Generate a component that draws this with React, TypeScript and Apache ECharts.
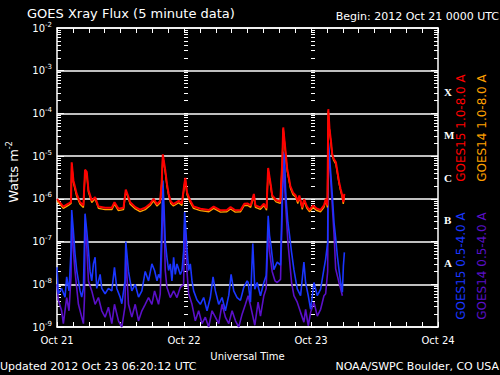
import React, { useEffect, useRef } from 'react';
import * as echarts from 'echarts';

// ---- data (hours since 2012 Oct 21 00:00 UTC, flux in W m^-2) ----
const DAY_LABELS = ['Oct 21', 'Oct 22', 'Oct 23', 'Oct 24'];
const CLASS_LETTERS = ['A', 'B', 'C', 'M', 'X']; // mid-decade 10^-7.5 ... 10^-3.5
const SERIES_NAMES = ['GOES15 1.0-8.0 A', 'GOES14 1.0-8.0 A', 'GOES15 0.5-4.0 A', 'GOES14 0.5-4.0 A'];
const TITLE = 'GOES Xray Flux (5 minute data)';
const BEGIN = 'Begin: 2012 Oct 21 0000 UTC';
const UPDATED = 'Updated 2012 Oct 23 06:20:12 UTC';
const CREDIT = 'NOAA/SWPC Boulder, CO USA';
const DECADE_EXPONENTS = [-9, -8, -7, -6, -5, -4, -3, -2];
const MINOR_MULTIPLIERS = [2, 3, 4, 5, 6, 7, 8, 9];

const goes15Long: [number, number][] = [
  [0, 1.0e-6], [1.2, 6.6e-7], [2.15, 7.7e-7], [2.65, 8.5e-7], [2.78, 7.2e-6], [3.1, 2.7e-6],
  [3.72, 1.3e-6], [4.36, 8.3e-7], [4.99, 7.0e-7], [5.3, 4.8e-6], [5.62, 4.3e-6], [5.94, 1.6e-6],
  [6.57, 9.1e-7], [7.2, 1.1e-6], [7.83, 6.6e-7], [9.1, 6.2e-7], [10.36, 6.2e-7], [10.86, 8.3e-7],
  [11.6, 5.9e-7], [12.57, 6.2e-7], [13.0, 1.65e-6], [13.4, 1.2e-6], [13.83, 8.3e-7], [14.8, 6.4e-7],
  [15.7, 5.6e-7], [16.67, 6.2e-7], [17.6, 7.7e-7], [18.25, 1.0e-6], [18.9, 7.5e-7], [19.5, 9.0e-7],
  [19.8, 2.7e-6], [20.0, 1.1e-5], [20.46, 4.7e-6], [20.78, 2.2e-6], [21.1, 1.3e-6], [21.5, 8.7e-7],
  [22.0, 7.5e-7], [23.0, 9.0e-7], [23.6, 7.8e-7], [24.06, 2.2e-6], [24.25, 3.1e-6], [24.57, 1.4e-6],
  [25.2, 9.0e-7], [25.8, 6.6e-7], [27.1, 5.9e-7], [28.7, 5.5e-7], [29.6, 6.6e-7], [30.9, 5.4e-7],
  [32.1, 5.5e-7], [32.8, 6.4e-7], [33.7, 5.4e-7], [34.7, 5.5e-7], [35.4, 7.7e-7], [36.05, 7.8e-7],
  [36.6, 7.0e-7], [37.2, 1.3e-6], [37.5, 7.0e-7], [38.45, 6.3e-7], [39.1, 7.7e-7], [39.6, 6.0e-7],
  [39.9, 5.3e-6], [40.35, 2.3e-6], [40.67, 1.2e-6], [41.4, 9.4e-7], [42.2, 8.7e-7], [42.56, 7.2e-6],
  [42.75, 4.7e-5], [43.2, 1.26e-5], [43.5, 5.1e-6], [43.8, 3.2e-6], [44.1, 2.0e-6], [44.6, 1.4e-6],
  [45.1, 1.2e-6], [45.5, 8.7e-7], [45.8, 1.2e-6], [46.35, 6.3e-7], [46.7, 9.8e-7], [47.2, 6.8e-7],
  [47.7, 5.5e-7], [48.4, 7.0e-7], [49.0, 6.0e-7], [49.8, 5.5e-7], [50.45, 7.0e-7], [50.8, 1.0e-6],
  [51.1, 7.0e-7], [51.27, 1.26e-4], [51.5, 4.4e-5], [51.8, 2.1e-5], [52.0, 1.14e-5], [52.3, 8.7e-6],
  [52.7, 7.2e-6], [53.0, 4.3e-6], [53.3, 2.5e-6], [53.6, 1.7e-6], [53.9, 1.2e-6], [54.1, 8.4e-7],
  [54.3, 1.3e-6],
];

const goes14Long: [number, number][] = [
  [0, 9.0e-7], [1.2, 6.0e-7], [2.15, 7.0e-7], [2.65, 7.8e-7], [2.78, 6.5e-6], [3.1, 2.4e-6],
  [3.72, 1.15e-6], [4.36, 7.5e-7], [4.99, 6.3e-7], [5.3, 4.3e-6], [5.62, 3.9e-6], [5.94, 1.45e-6],
  [6.57, 8.2e-7], [7.2, 1.0e-6], [7.83, 6.0e-7], [9.1, 5.6e-7], [10.36, 5.6e-7], [10.86, 7.5e-7],
  [11.6, 5.3e-7], [12.57, 5.6e-7], [13.0, 1.5e-6], [13.4, 1.1e-6], [13.83, 7.5e-7], [14.8, 5.8e-7],
  [15.7, 5.0e-7], [16.67, 5.6e-7], [17.6, 7.0e-7], [18.25, 9.0e-7], [18.9, 6.8e-7], [19.5, 8.1e-7],
  [19.8, 2.4e-6], [20.0, 1.0e-5], [20.46, 4.2e-6], [20.78, 2.0e-6], [21.1, 1.2e-6], [21.5, 7.8e-7],
  [22.0, 6.8e-7], [23.0, 8.1e-7], [23.6, 7.0e-7], [24.06, 2.0e-6], [24.25, 2.8e-6], [24.57, 1.25e-6],
  [25.2, 8.1e-7], [25.8, 6.0e-7], [27.1, 5.3e-7], [28.7, 5.0e-7], [29.6, 6.0e-7], [30.9, 4.9e-7],
  [32.1, 5.0e-7], [32.8, 5.8e-7], [33.7, 4.9e-7], [34.7, 5.0e-7], [35.4, 7.0e-7], [36.05, 7.0e-7],
  [36.6, 6.3e-7], [37.2, 1.15e-6], [37.5, 6.3e-7], [38.45, 5.7e-7], [39.1, 7.0e-7], [39.6, 5.4e-7],
  [39.9, 4.8e-6], [40.35, 2.1e-6], [40.67, 1.1e-6], [41.4, 8.5e-7], [42.2, 7.8e-7], [42.56, 6.5e-6],
  [42.75, 4.3e-5], [43.2, 1.15e-5], [43.5, 4.6e-6], [43.8, 2.9e-6], [44.1, 1.8e-6], [44.6, 1.25e-6],
  [45.1, 1.1e-6], [45.5, 7.8e-7], [45.8, 1.1e-6], [46.35, 5.7e-7], [46.7, 8.8e-7], [47.2, 6.1e-7],
  [47.7, 5.0e-7], [48.4, 6.3e-7], [49.0, 5.4e-7], [49.8, 5.0e-7], [50.45, 6.3e-7], [50.8, 9.0e-7],
  [51.1, 6.3e-7], [51.27, 1.15e-4], [51.5, 4.0e-5], [51.8, 1.9e-5], [52.0, 1.05e-5], [52.3, 7.9e-6],
  [52.7, 6.5e-6], [53.0, 3.9e-6], [53.3, 2.3e-6], [53.6, 1.55e-6], [53.9, 1.1e-6], [54.1, 7.6e-7],
  [54.3, 1.2e-6],
];

const goes15Short: [number, number][] = [
  [0, 2.5e-8], [0.25, 6e-9], [0.88, 8e-9], [1.52, 5e-9], [1.83, 1.5e-8], [2.27, 7e-9], [2.65, 6e-8],
  [2.78, 5.5e-7], [3.09, 1.8e-7], [3.41, 5e-8], [3.73, 2.1e-8], [4.36, 7e-9], [4.67, 5e-9], [4.99, 8e-9],
  [5.3, 4.5e-7], [5.62, 1.8e-7], [5.94, 6.3e-8], [6.25, 2e-8], [6.57, 1.2e-8], [6.88, 3e-8], [7.2, 4.3e-8],
  [7.51, 8e-9], [8.15, 1.7e-8], [8.46, 8e-9], [9.09, 6e-9], [9.72, 8e-9], [10.36, 7e-9], [10.86, 2.5e-8],
  [11.3, 8e-9], [11.93, 5e-9], [12.25, 3.5e-9], [12.85, 1.2e-8], [13.0, 1e-7], [13.51, 2e-8], [14.14, 7e-9],
  [14.78, 1e-8], [15.41, 5e-9], [16.04, 7e-9], [16.67, 2e-8], [17.3, 1.2e-8], [17.93, 3e-8], [18.44, 2.1e-8],
  [18.9, 1.2e-8], [19.19, 1.7e-8], [19.51, 1.4e-8], [19.83, 3e-7], [20.02, 2.7e-6], [20.27, 4.5e-7],
  [20.46, 1e-7], [20.77, 4.3e-8], [21.09, 2.1e-8], [21.41, 3e-8], [21.72, 1.2e-8], [22.04, 4.3e-8],
  [22.35, 1.7e-8], [22.67, 3e-8], [23.3, 1.7e-8], [23.62, 2.1e-8], [23.93, 6e-8], [24.12, 4.9e-7],
  [24.25, 3e-7], [24.56, 7e-8], [24.88, 2.1e-8], [25.19, 3e-8], [25.51, 1.2e-8], [25.82, 7e-9],
  [26.46, 4.3e-9], [27.09, 3.4e-9], [27.72, 4.9e-9], [28.35, 2.4e-9], [28.98, 4.9e-9], [29.49, 1.5e-8],
  [29.93, 7e-9], [30.56, 3.4e-9], [31.19, 4.9e-9], [31.82, 2.4e-9], [32.46, 5.5e-9], [32.9, 1.7e-8],
  [33.4, 7e-9], [34.03, 4.9e-9], [34.67, 4.2e-9], [35.3, 8.5e-9], [35.93, 1.2e-8], [36.12, 1.1e-8],
  [36.56, 3.8e-9], [37.0, 9e-8], [37.38, 7.7e-9], [37.82, 1.1e-8], [38.45, 5.4e-9], [39.09, 1.1e-8],
  [39.53, 1.6e-8], [39.91, 4e-7], [40.16, 1.4e-7], [40.41, 8.6e-8], [40.66, 4.6e-8], [40.98, 2.2e-8],
  [41.61, 3.3e-8], [42.24, 2.8e-8], [42.56, 1e-6], [42.75, 1.26e-5], [43.0, 1e-5], [43.19, 1.7e-6],
  [43.38, 7e-7], [43.63, 2.8e-7], [43.95, 1.4e-7], [44.33, 5.6e-8], [44.77, 2.2e-8], [45.4, 7.8e-9],
  [46.03, 5.4e-9], [46.66, 3.3e-8], [46.98, 1.1e-8], [47.48, 5.4e-9], [47.93, 2.6e-9], [48.56, 1.1e-8],
  [49.19, 5.4e-9], [49.82, 7.7e-9], [50.45, 2.3e-8], [50.77, 3.9e-8], [51.15, 9.6e-8], [51.27, 2.1e-5],
  [51.4, 1.5e-5], [51.71, 4.3e-6], [52.03, 1.2e-6], [52.35, 2.8e-7], [52.66, 1.2e-7], [52.98, 4.6e-8],
  [53.29, 2.2e-8], [53.61, 1.1e-8], [53.93, 6.5e-9], [54.12, 2.7e-8], [54.31, 5.6e-8],
];

const goes14Short: [number, number][] = [
  [0, 1e-8], [0.25, 4.3e-9], [0.88, 2.4e-9], [1.2, 1.2e-9], [1.83, 4.9e-9], [2.27, 2.4e-9], [2.65, 1.5e-8],
  [2.78, 3e-7], [3.1, 6e-8], [3.41, 2e-8], [4.05, 3.4e-9], [4.67, 1.7e-9], [4.99, 1.2e-9], [5.2, 5e-9],
  [5.3, 2.5e-7], [5.62, 8e-8], [5.94, 1.2e-8], [6.57, 7e-9], [7.2, 3.4e-9], [7.83, 4.9e-9], [8.46, 2.4e-9],
  [9.09, 1.7e-9], [9.72, 2.9e-9], [10.36, 1.2e-9], [10.86, 3.4e-9], [11.61, 1.4e-9], [12.25, 1.0e-9],
  [12.85, 3e-9], [13.0, 5e-8], [13.51, 3.4e-9], [14.14, 1.7e-9], [14.78, 3.4e-9], [15.41, 1.4e-9],
  [16.04, 2.4e-9], [16.67, 3.4e-9], [17.3, 4.9e-9], [17.93, 3.4e-9], [18.44, 7e-9], [19.19, 3.4e-9],
  [19.51, 6e-9], [19.83, 1e-7], [20.02, 1.5e-6], [20.27, 2e-7], [20.46, 2.1e-8], [20.77, 8.5e-9],
  [21.41, 4.9e-9], [22.04, 7e-9], [22.67, 4.9e-9], [23.3, 8.5e-9], [23.93, 1e-8], [24.12, 2.5e-7],
  [24.25, 1.5e-7], [24.56, 2e-8], [24.88, 6e-9], [25.51, 3.4e-9], [26.14, 1.4e-9], [26.77, 2.4e-9],
  [27.4, 1.2e-9], [28.03, 1.7e-9], [28.66, 1.0e-9], [29.3, 2.4e-9], [29.93, 1.7e-9], [30.56, 1.2e-9],
  [31.19, 3.4e-9], [31.82, 1.7e-9], [32.46, 1.2e-9], [33.09, 2.4e-9], [33.72, 1.4e-9], [34.35, 1.0e-9],
  [34.98, 2e-9], [35.61, 3.4e-9], [36.12, 5.4e-9], [36.56, 3.2e-9], [37.0, 1.8e-9], [37.38, 1.1e-9],
  [38.0, 3.8e-9], [38.45, 1.8e-9], [39.09, 5.4e-9], [39.53, 8e-9], [39.91, 2e-7], [40.16, 6e-8],
  [40.66, 2e-8], [41.2, 1.2e-8], [41.61, 1.1e-8], [42.24, 1.3e-8], [42.56, 5e-7], [42.75, 8e-6],
  [43.19, 8e-7], [43.63, 1e-7], [44.33, 1.1e-8], [44.77, 5.4e-9], [45.4, 3.8e-9], [46.03, 2.2e-9],
  [46.66, 1.3e-9], [46.98, 2.6e-9], [47.48, 1.07e-9], [47.93, 2.2e-9], [48.56, 3.8e-9], [49.19, 1.8e-9],
  [49.82, 2.6e-9], [50.45, 5.4e-9], [50.77, 6e-9], [51.15, 2e-8], [51.27, 1.5e-5], [51.71, 3e-6],
  [52.35, 1.5e-7], [52.66, 2.3e-8], [53.29, 1.1e-8], [53.61, 7.7e-9], [53.93, 5.4e-9],
];

const Y_MIN = 1e-9;
const Y_MAX = 1e-2;
const X_MAX_HOURS = 72;
const TICK_HOURS = 3;

export default function App() {
  const ref = useRef<HTMLDivElement>(null);

  useEffect(() => {
    document.body.style.margin = '0';
    document.body.style.background = '#000';
    const chart = echarts.init(ref.current!, null, { renderer: 'svg' });

    const white = '#ffffff';
    const font = '"DejaVu Sans", sans-serif';
    const grid = { left: 57, top: 28, width: 381, height: 299 };
    const dayPx = grid.width / 3;

    // tick positions of a logarithmic axis: the decades and the 2..9 multiples between them
    const decadeValues = DECADE_EXPONENTS.map((e) => Number(`1e${e}`));
    const minorValues: number[] = [];
    DECADE_EXPONENTS.slice(0, -1).forEach((e) => {
      MINOR_MULTIPLIERS.forEach((m) => minorValues.push(Number(`${m}e${e}`)));
    });

    const logAxis = (extra: any) => ({
      type: 'log',
      logBase: 10,
      min: Y_MIN,
      max: Y_MAX,
      splitNumber: 7,
      axisLine: { show: false },
      axisTick: { show: false },
      minorTick: { show: false },
      axisLabel: { show: false },
      splitLine: { show: false },
      ...extra,
    });
    const majorTicks = { show: true, inside: true, length: 7, customValues: decadeValues, lineStyle: { color: white, width: 1 } };
    const minorTicks = { show: true, inside: true, length: 4, customValues: minorValues, lineStyle: { color: white, width: 1 } };
    const allTicks = { show: true, inside: true, length: 4, customValues: decadeValues.concat(minorValues), lineStyle: { color: white, width: 1 } };

    const timeAxis = (extra: any) => ({
      type: 'value',
      min: 0,
      max: X_MAX_HOURS,
      interval: TICK_HOURS,
      axisLine: { show: true, onZero: false, lineStyle: { color: white, width: 1.5 } },
      axisTick: { show: true, inside: true, length: 5, lineStyle: { color: white, width: 1 } },
      axisLabel: { show: false },
      splitLine: { show: false },
      ...extra,
    });

    const colors = ['#ff0000', '#ffa000', '#1a36ff', '#5a10c8'];
    const widths = [2, 1.4, 1.6, 1.6];
    const seriesData = [goes15Long, goes14Long, goes15Short, goes14Short];
    const drawOrder = [3, 2, 1, 0];

    chart.setOption({
      animation: false,
      backgroundColor: '#000000',
      grid: { ...grid, containLabel: false },
      xAxis: [
        timeAxis({
          position: 'bottom',
          axisLabel: {
            show: true,
            color: white,
            fontSize: 10,
            fontFamily: font,
            margin: 8,
            formatter: (v: number) => (v % 24 === 0 ? DAY_LABELS[v / 24] : ''),
          },
          name: 'Universal Time',
          nameLocation: 'middle',
          nameGap: 24,
          nameTextStyle: { color: white, fontSize: 10, fontFamily: font },
        }),
        timeAxis({ position: 'top' }),
      ],
      yAxis: [
        logAxis({
          position: 'left',
          axisLine: { show: true, lineStyle: { color: white, width: 1.5 } },
          axisTick: majorTicks,
          splitLine: { show: true, lineStyle: { color: white, width: 1.5 } },
          axisLabel: {
            show: true,
            margin: 5,
            formatter: (v: number) => `{b|10}{s|${Math.round(Math.log10(v))}}`,
            rich: {
              b: { color: white, fontSize: 10, fontFamily: font, lineHeight: 14 },
              s: { color: white, fontSize: 7, fontFamily: font, verticalAlign: 'top', lineHeight: 8 },
            },
          },
        }),
        logAxis({ position: 'left', axisTick: minorTicks }),
        logAxis({ position: 'right', axisLine: { show: true, lineStyle: { color: white, width: 1.5 } }, axisTick: majorTicks }),
        logAxis({ position: 'right', axisTick: minorTicks }),
        {
          type: 'value',
          position: 'right',
          min: -9,
          max: -2,
          interval: 0.5,
          axisLine: { show: false },
          axisTick: { show: false },
          splitLine: { show: false },
          axisLabel: {
            show: true,
            margin: 6,
            color: white,
            fontSize: 11,
            fontWeight: 'bold',
            fontFamily: '"Liberation Serif", "DejaVu Serif", serif',
            formatter: (v: number) => {
              const idx = Math.round(v + 7.5);
              const isHalf = Math.abs(Math.abs(v % 1) - 0.5) < 1e-6;
              return isHalf && idx >= 0 && idx < CLASS_LETTERS.length ? CLASS_LETTERS[idx] : '';
            },
          },
        },
        logAxis({ position: 'left', offset: -dayPx, axisTick: allTicks }),
        logAxis({ position: 'left', offset: -2 * dayPx, axisTick: allTicks }),
      ],
      series: drawOrder.map((i) => ({
        type: 'line',
        name: SERIES_NAMES[i],
        data: seriesData[i],
        xAxisIndex: 0,
        yAxisIndex: 0,
        showSymbol: false,
        silent: true,
        lineStyle: { color: colors[i], width: widths[i] },
        itemStyle: { color: colors[i] },
      })),
      graphic: [
        { type: 'text', left: 27, top: 7, style: { text: TITLE, fill: white, font: `13px ${font}` } },
        { type: 'text', right: 1, top: 11, style: { text: BEGIN, fill: white, font: `11px ${font}` } },
        { type: 'text', left: 0, top: 361, style: { text: UPDATED, fill: white, font: `11px ${font}` } },
        { type: 'text', right: 1, top: 361, style: { text: CREDIT, fill: white, font: `11px ${font}` } },
        {
          type: 'text',
          x: 13,
          y: 172,
          rotation: Math.PI / 2,
          style: {
            text: '{a|Watts m}{s|-2}',
            align: 'center',
            verticalAlign: 'middle',
            rich: {
              a: { fill: white, font: `13px ${font}`, lineHeight: 16 },
              s: { fill: white, font: `8px ${font}`, verticalAlign: 'top', lineHeight: 9 },
            },
          },
        },
        ...[0, 1, 2, 3].map((i) => ({
          type: 'text',
          x: i % 2 === 0 ? 461 : 482,
          y: i < 2 ? 128 : 266,
          rotation: Math.PI / 2,
          style: {
            text: SERIES_NAMES[i],
            fill: colors[i],
            font: `12px ${font}`,
            align: 'center',
            verticalAlign: 'middle',
          },
        })),
      ],
    });

    return () => chart.dispose();
  }, []);

  return <div ref={ref} style={{ width: 500, height: 375 }} />;
}
